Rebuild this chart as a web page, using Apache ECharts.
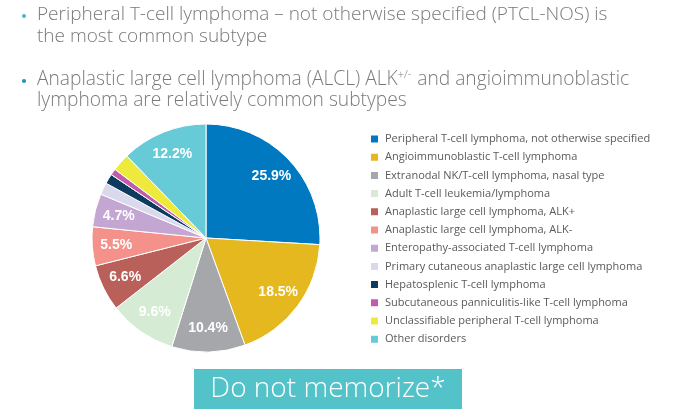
<!DOCTYPE html>
<html><head><meta charset="utf-8">
<script src="https://cdn.jsdelivr.net/npm/echarts@6/dist/echarts.min.js"></script>
<style>html,body{margin:0;padding:0;background:#fff}#c{width:683px;height:418px}</style>
</head><body><div id="c"></div>
<script>
const categories = [
  "Peripheral T-cell lymphoma, not otherwise specified",
  "Angioimmunoblastic T-cell lymphoma",
  "Extranodal NK/T-cell lymphoma, nasal type",
  "Adult T-cell leukemia/lymphoma",
  "Anaplastic large cell lymphoma, ALK+",
  "Anaplastic large cell lymphoma, ALK-",
  "Enteropathy-associated T-cell lymphoma",
  "Primary cutaneous anaplastic large cell lymphoma",
  "Hepatosplenic T-cell lymphoma",
  "Subcutaneous panniculitis-like T-cell lymphoma",
  "Unclassifiable peripheral T-cell lymphoma",
  "Other disorders"
];
const values = [25.9, 18.5, 10.4, 9.6, 6.6, 5.5, 4.7, 1.7, 1.4, 0.9, 2.5, 12.2];
const colors = ["#0079c1","#e5b81f","#a6a7ab","#d6ebd4","#b9605a","#f4918b","#c4a6d3","#dad8ec","#0c3b5f","#c15ca9","#eeea3c","#67cad7"];
const labelMin = 4;

const chart = echarts.init(document.getElementById('c'), null, {renderer:'canvas'});
const font = '"Open Sans", sans-serif';
const pieData = categories.map((n,i)=>({name:n, value:values[i]}));
chart.setOption({
  animation:false,
  color: colors,
  legend: {
    data: categories,
    orient:'vertical', left:364, top:127, icon:'rect', itemWidth:9, itemHeight:9, itemGap:4.2,
    textStyle:{fontFamily:font, fontSize:11, color:'#5a5a5a', lineHeight:14, padding:[0,0,0,1]},
    selectedMode:false
  },
  graphic: [
    {type:'circle', shape:{cx:24, cy:16, r:2}, style:{fill:'#46b8c9'}},
    {type:'text', left:37, top:4, style:{text:'Peripheral T-cell lymphoma – not otherwise specified (PTCL-NOS) is\nthe most common subtype', font:'300 19px "Open Sans"', fill:'#7a7a7a', lineHeight:22}},
    {type:'circle', shape:{cx:24, cy:81, r:2}, style:{fill:'#1f8fb6'}},
    {type:'text', left:37, top:69, style:{
      text:'Anaplastic large cell lymphoma (ALCL) ALK{sup|+/-} and angioimmunoblastic\nlymphoma are relatively common subtypes',
      font:'300 19.2px "Open Sans"', fill:'#7a7a7a', lineHeight:21,
      rich:{sup:{fontSize:11, fontFamily:'Open Sans', fontWeight:300, fill:'#7a7a7a', verticalAlign:'top', lineHeight:21, padding:[0,1,8,0]}}
    }},
    {type:'rect', shape:{x:194, y:369, width:268, height:40}, style:{fill:'#53c3c9'}},
    {type:'text', x:328, y:389, style:{text:'Do not memorize*', font:'300 28px "Open Sans"', fill:'#ffffff', align:'center', verticalAlign:'middle'}}
  ],
  series: [{
    type:'pie', center:[206,238], radius:[0,114], startAngle:90, clockwise:true,
    itemStyle:{borderColor:'#fff', borderWidth:1},
    label:{show:false},
    labelLine:{show:false},
    emphasis:{disabled:true},
    data: pieData
  },{
    type:'pie', center:[206,238], radius:[60,114], startAngle:90, clockwise:true, silent:true,
    legendHoverLink:false,
    itemStyle:{color:'transparent', borderWidth:0},
    label:{show:true, position:'inside', formatter:p=> p.value>=labelMin ? p.value.toFixed(1)+'%' : '',
      color:'#fff', fontFamily:'Arial, "Liberation Sans", sans-serif', fontWeight:'bold', fontSize:14},
    labelLine:{show:false},
    emphasis:{disabled:true},
    data: pieData
  }]
});
</script></body></html>
